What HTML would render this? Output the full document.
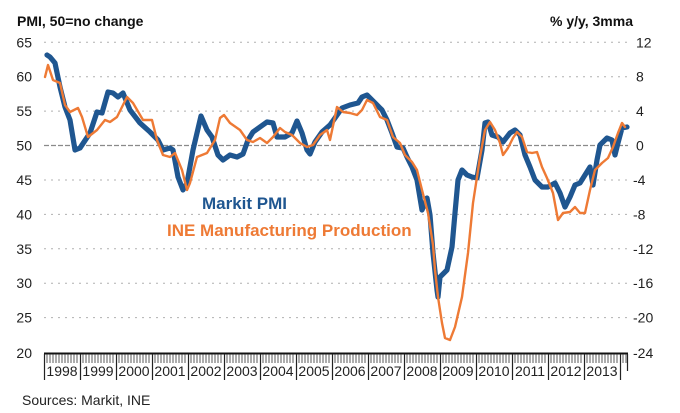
<!DOCTYPE html>
<html><head><meta charset="utf-8"><style>
html,body{margin:0;padding:0;background:#fff;}
svg{display:block;}
text{font-family:"Liberation Sans",Arial,sans-serif;}
</style></head><body>
<svg width="680" height="413" viewBox="0 0 680 413" xmlns="http://www.w3.org/2000/svg">
<rect width="680" height="413" fill="#fff"/>
<text x="17" y="26" font-size="14" font-weight="bold" fill="#111">PMI, 50=no change</text>
<text x="633" y="26" font-size="14" font-weight="bold" fill="#111" text-anchor="end">% y/y, 3mma</text>
<g stroke="#b0b0b0" stroke-width="1" stroke-dasharray="2,5">
<line x1="44" x2="628" y1="42.3" y2="42.3"/>
<line x1="44" x2="628" y1="76.7" y2="76.7"/>
<line x1="44" x2="628" y1="111.1" y2="111.1"/>
<line x1="44" x2="628" y1="180" y2="180"/>
<line x1="44" x2="628" y1="214.4" y2="214.4"/>
<line x1="44" x2="628" y1="248.8" y2="248.8"/>
<line x1="44" x2="628" y1="283.2" y2="283.2"/>
<line x1="44" x2="628" y1="317.6" y2="317.6"/>
</g>
<line x1="44" x2="628" y1="145.5" y2="145.5" stroke="#8a8a8a" stroke-width="1.2" stroke-dasharray="5,2"/>
<g font-size="14" fill="#222" text-anchor="end">
<text x="32" y="47.3">65</text><text x="32" y="81.7">60</text><text x="32" y="116.1">55</text>
<text x="32" y="150.5">50</text><text x="32" y="185">45</text><text x="32" y="219.4">40</text>
<text x="32" y="253.8">35</text><text x="32" y="288.2">30</text><text x="32" y="322.6">25</text>
<text x="32" y="358">20</text>
</g>
<g font-size="14" fill="#222">
<text x="636" y="47.3">12</text><text x="636" y="81.7">8</text><text x="636" y="116.1">4</text>
<text x="636" y="150.5">0</text><text x="633" y="185">-4</text><text x="633" y="219.4">-8</text>
<text x="633" y="253.8">-12</text><text x="633" y="288.2">-16</text><text x="633" y="322.6">-20</text>
<text x="633" y="358">-24</text>
</g>
<polyline fill="none" stroke="#1f5690" stroke-width="5.2" stroke-linejoin="round" stroke-linecap="round" points="47,55 50,57 55,63 60,87 65,107 70,120 75,150 80,148 90,133 97,112 102,113 108,92 113,93 118,97 123,93 130,110 140,123 150,132 158,140 163,150 170,148 173,150 178,177 183,190 187,183 193,150 201,116 207,130 212,137 218,155 223,160 230,155 237,157 243,154 248,140 253,132 260,127 267,122 273,123 277,137 285,137 292,133 297,121 302,133 307,150 310,154 315,142 322,132 330,125 335,118 342,108 350,105 358,103 362,97 367,95 372,100 377,105 382,110 387,120 392,133 397,147 403,148 407,157 412,167 417,180 422,210 427,198 430,215 433,253 437,290 438,297 440,277 447,270 452,247 455,213 458,180 462,170 467,175 472,177 477,178 482,150 485,123 488,122 492,135 498,137 503,142 510,133 515,130 520,135 525,155 530,167 535,180 542,187 548,187 555,183 560,193 565,207 570,197 575,185 580,183 585,175 590,167 593,185 597,160 600,145 607,138 612,140 615,155 618,143 622,128 627,127"/>
<polyline fill="none" stroke="#ee7a35" stroke-width="2.4" stroke-linejoin="round" stroke-linecap="round" points="45,77 48,65 53,80 60,83 65,105 70,112 78,108 82,117 88,137 97,130 105,120 110,122 117,117 127,97 133,103 143,120 152,120 157,140 163,155 170,157 175,153 182,170 187,190 190,183 197,157 207,153 215,140 220,118 224,115 230,123 240,130 247,140 253,142 260,138 267,143 273,137 280,128 285,132 292,135 300,143 307,147 313,145 320,135 327,130 330,140 337,107 343,112 350,113 357,115 362,110 367,100 373,103 380,117 387,120 393,137 400,143 405,155 412,162 417,170 422,190 428,213 433,245 435,270 438,297 442,323 445,338 450,340 455,327 462,297 468,253 473,203 477,177 480,157 485,130 490,122 495,130 500,143 503,155 508,148 513,138 517,132 522,137 527,152 532,153 537,152 542,167 547,178 553,193 558,220 563,213 570,212 575,207 580,213 585,213 590,190 595,170 602,163 608,158 613,147 618,133 622,123 625,127"/>
<text x="202" y="209" font-size="17" font-weight="bold" fill="#1f5690">Markit PMI</text>
<text x="167" y="236" font-size="17" font-weight="bold" fill="#ee7a35">INE Manufacturing Production</text>
<line x1="44" x2="628" y1="353.5" y2="353.5" stroke="#111" stroke-width="2"/>
<g font-size="14" fill="#222" text-anchor="middle">
<text x="62" y="376">1998</text><text x="98" y="376">1999</text><text x="134" y="376">2000</text>
<text x="170" y="376">2001</text><text x="206" y="376">2002</text><text x="242" y="376">2003</text>
<text x="278" y="376">2004</text><text x="314" y="376">2005</text><text x="350" y="376">2006</text>
<text x="386" y="376">2007</text><text x="422" y="376">2008</text><text x="458" y="376">2009</text>
<text x="494" y="376">2010</text><text x="530" y="376">2011</text><text x="566" y="376">2012</text>
<text x="602" y="376">2013</text>
</g>
<path stroke="#333" stroke-width="0.8" fill="none" d="M47,354V363M50,354V363M53,354V363M56,354V363M59,354V363M62,354V363M65,354V363M68,354V363M71,354V363M74,354V363M77,354V363M83,354V363M86,354V363M89,354V363M92,354V363M95,354V363M98,354V363M101,354V363M104,354V363M107,354V363M110,354V363M113,354V363M119,354V363M122,354V363M125,354V363M128,354V363M131,354V363M134,354V363M137,354V363M140,354V363M143,354V363M146,354V363M149,354V363M155,354V363M158,354V363M161,354V363M164,354V363M167,354V363M170,354V363M173,354V363M176,354V363M179,354V363M182,354V363M185,354V363M191,354V363M194,354V363M197,354V363M200,354V363M203,354V363M206,354V363M209,354V363M212,354V363M215,354V363M218,354V363M221,354V363M227,354V363M230,354V363M233,354V363M236,354V363M239,354V363M242,354V363M245,354V363M248,354V363M251,354V363M254,354V363M257,354V363M263,354V363M266,354V363M269,354V363M272,354V363M275,354V363M278,354V363M281,354V363M284,354V363M287,354V363M290,354V363M293,354V363M299,354V363M302,354V363M305,354V363M308,354V363M311,354V363M314,354V363M317,354V363M320,354V363M323,354V363M326,354V363M329,354V363M335,354V363M338,354V363M341,354V363M344,354V363M347,354V363M350,354V363M353,354V363M356,354V363M359,354V363M362,354V363M365,354V363M371,354V363M374,354V363M377,354V363M380,354V363M383,354V363M386,354V363M389,354V363M392,354V363M395,354V363M398,354V363M401,354V363M407,354V363M410,354V363M413,354V363M416,354V363M419,354V363M422,354V363M425,354V363M428,354V363M431,354V363M434,354V363M437,354V363M443,354V363M446,354V363M449,354V363M452,354V363M455,354V363M458,354V363M461,354V363M464,354V363M467,354V363M470,354V363M473,354V363M479,354V363M482,354V363M485,354V363M488,354V363M491,354V363M494,354V363M497,354V363M500,354V363M503,354V363M506,354V363M509,354V363M515,354V363M518,354V363M521,354V363M524,354V363M527,354V363M530,354V363M533,354V363M536,354V363M539,354V363M542,354V363M545,354V363M551,354V363M554,354V363M557,354V363M560,354V363M563,354V363M566,354V363M569,354V363M572,354V363M575,354V363M578,354V363M581,354V363M587,354V363M590,354V363M593,354V363M596,354V363M599,354V363M602,354V363M605,354V363M608,354V363M611,354V363M614,354V363M617,354V363M623,354V363M626,354V363"/>
<path stroke="#222" stroke-width="1.2" fill="none" d="M44.5,354V380M80.5,354V380M116.5,354V380M152.5,354V380M188.5,354V380M224.5,354V380M260.5,354V380M296.5,354V380M332.5,354V380M368.5,354V380M404.5,354V380M440.5,354V380M476.5,354V380M512.5,354V380M548.5,354V380M584.5,354V380M620.5,354V380M627.5,354V371"/>
<text x="22" y="405" font-size="14" fill="#222">Sources: Markit, INE</text>
</svg>
</body></html>
